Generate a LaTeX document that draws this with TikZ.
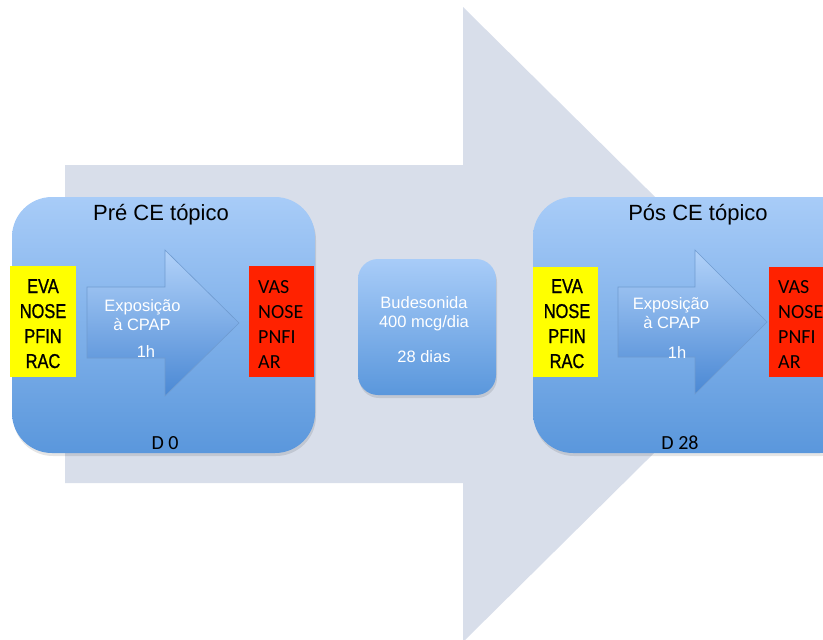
\documentclass[tikz,border=0pt]{standalone}
\usepackage{fontspec}
\setmainfont{Liberation Sans}
\newfontfamily\calfont{Carlito}
\newfontfamily\narrowfont[FakeStretch=0.82,FakeBold=1]{Liberation Sans}
\definecolor{bgarrow}{HTML}{D8DEEA}
\definecolor{boxtop}{HTML}{A8CCF8}
\definecolor{boxbot}{HTML}{5A97DC}
\definecolor{arrtop}{HTML}{B2D2F9}
\definecolor{arrbot}{HTML}{4A88D4}
\definecolor{arredge}{HTML}{6F9BD0}
\definecolor{yelbox}{HTML}{FFFF00}
\definecolor{redbox}{HTML}{FF2200}
\tikzset{
  bigbox/.style={top color=boxtop, bottom color=boxbot, rounded corners=40pt},
  midbox/.style={top color=boxtop, bottom color=boxbot, rounded corners=20pt},
  shadowbox/.style={fill=black, opacity=0.10},
  innerarrow/.style={top color=arrtop, bottom color=arrbot, draw=arredge, line width=0.6pt},
  title/.style={anchor=base, font=\fontsize{22}{26}\selectfont, text=black, inner sep=0pt},
  daylabel/.style={anchor=base, font=\calfont\fontsize{20}{24}\selectfont, text=black, inner sep=0pt},
  ylabel/.style={anchor=base, font=\narrowfont\fontsize{20}{24}\selectfont, text=black, inner sep=0pt},
  rlabel/.style={anchor=base west, font=\calfont\fontsize{20}{24}\selectfont, text=black, inner sep=0pt},
  wlabel/.style={anchor=base, font=\fontsize{16.5}{19}\selectfont, text=white, inner sep=0pt},
}
\begin{document}
\begin{tikzpicture}[x=1pt, y=-1pt]
\useasboundingbox (0,0) rectangle (823,640);
\clip (0,0) rectangle (823,640);
% big background arrow
\fill[bgarrow] (65,165) -- (463,165) -- (463,7) -- (784,324.5) -- (463,642) -- (463,483) -- (65,483) -- cycle;

% ---------- Pre box ----------
\fill[shadowbox, rounded corners=40pt] (13,200) rectangle (316,456);
\shade[bigbox] (12,197) rectangle (315,453);
\fill[yelbox] (10,266) rectangle (76,377);
\fill[redbox] (249,266) rectangle (314,377);
\shade[innerarrow] (87,287) -- (165,287) -- (165,250) -- (239,323) -- (165,396) -- (165,358) -- (87,358) -- cycle;
\node[title] (pretitle) at (161,220) {Pré CE tópico};
\node[ylabel] (py1) at (43,293) {EVA};
\node[ylabel] (py2) at (43,318) {NOSE};
\node[ylabel] (py3) at (43,343) {PFIN};
\node[ylabel] (py4) at (43,368) {RAC};
\node[rlabel] (pr1) at (258,293) {VAS};
\node[rlabel] (pr2) at (258,318) {NOSE};
\node[rlabel] (pr3) at (258,343) {PNFI};
\node[rlabel] (pr4) at (258,368) {AR};
\node[wlabel] (pa1) at (142.5,311) {Exposição};
\node[wlabel] (pa2) at (142,330) {à CPAP};
\node[wlabel] (pa3) at (146,357) {1h};
\node[daylabel] (pday) at (165,449.5) {D 0};

% ---------- middle box ----------
\fill[shadowbox, rounded corners=20pt] (359,262) rectangle (497,398);
\shade[midbox] (358,259) rectangle (496,395);
\node[wlabel] (m1) at (424,308) {Budesonida};
\node[wlabel] (m2) at (424,327) {400 mcg/dia};
\node[wlabel] (m3) at (424,362) {28 dias};

% ---------- Pos box ----------
\fill[shadowbox, rounded corners=40pt] (534,200) rectangle (862,456);
\shade[bigbox] (533,197) rectangle (860,453);
\fill[yelbox] (533,267) rectangle (598,377);
\fill[redbox] (769,267) rectangle (830,377);
\shade[innerarrow] (618,287) -- (695,287) -- (695,250) -- (767,322) -- (695,394) -- (695,357) -- (618,357) -- cycle;
\node[title] (posttitle) at (698,220) {Pós CE tópico};
\node[ylabel] (qy1) at (567,293) {EVA};
\node[ylabel] (qy2) at (567,318) {NOSE};
\node[ylabel] (qy3) at (567,343) {PFIN};
\node[ylabel] (qy4) at (567,368) {RAC};
\node[rlabel] (qr1) at (778,293) {VAS};
\node[rlabel] (qr2) at (778,318) {NOSE};
\node[rlabel] (qr3) at (778,343) {PNFI};
\node[rlabel] (qr4) at (778,368) {AR};
\node[wlabel] (qa1) at (671,309) {Exposição};
\node[wlabel] (qa2) at (672,328) {à CPAP};
\node[wlabel] (qa3) at (677,358) {1h};
\node[daylabel] (qday) at (680,449.5) {D 28};
\end{tikzpicture}
\end{document}
